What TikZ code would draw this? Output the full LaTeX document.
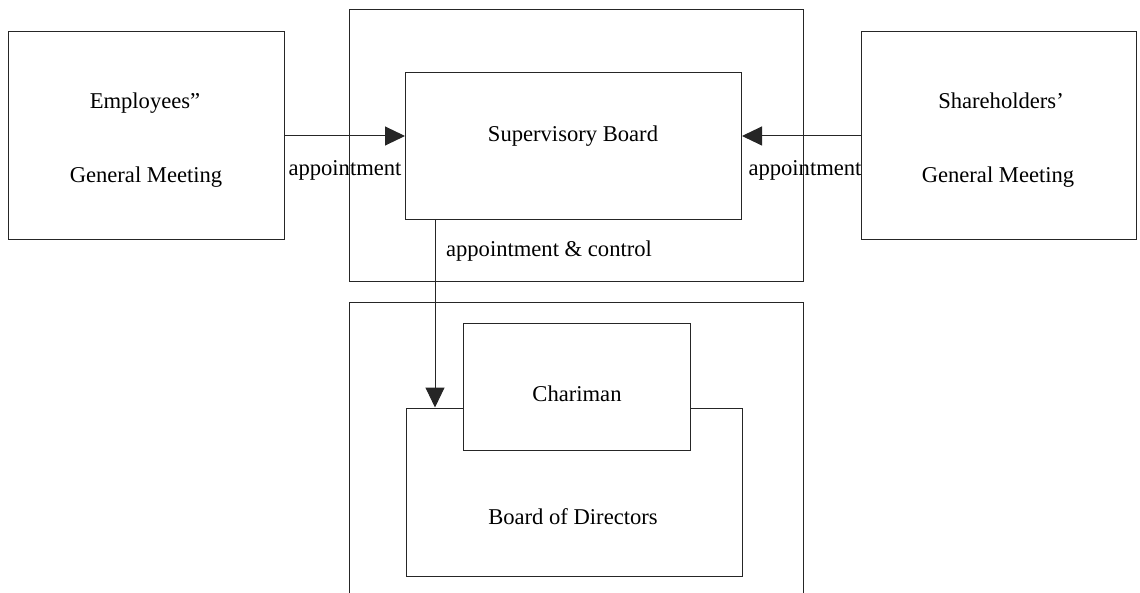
\documentclass[tikz,border=0pt]{standalone}
\usepackage{fontspec}
\setmainfont{Liberation Serif}
\usetikzlibrary{arrows.meta}
\begin{document}
\begin{tikzpicture}[x=1pt,y=-1pt,
  box/.style={draw=black!85,line width=1pt,rectangle,inner sep=0pt,minimum width=#1},
  lbl/.style={font=\fontsize{22.6}{27}\selectfont,inner sep=0pt,anchor=base},
  conn/.style={draw=black!85,line width=1pt,-{Triangle[length=20pt,width=19pt]}}]
\useasboundingbox (0,0) rectangle (1140,593);
% outer frames
\node[box=454,minimum height=272] (topframe) at (576,146) {};
\draw[draw=black!85,line width=1pt] (349,600) -- (349,303) -- (803,303) -- (803,600);
% boxes
\node[box=276,minimum height=208] (emp) at (146,136) {};
\node[box=275,minimum height=208] (sh) at (998.5,136) {};
\node[box=336,minimum height=147] (sup) at (573.5,146.5) {};
\node[box=336,minimum height=168] (bod) at (574,492) {};
\node[box=227,minimum height=126,fill=white] (chair) at (576.5,387) {};
% texts
\node[lbl] (empA) at (145,109) {Employees''};
\node[lbl] (empB) at (146,183) {General Meeting};
\node[lbl] (shA) at (1001,109) {Shareholders'};
\node[lbl] (shB) at (998,183) {General Meeting};
\node[lbl] (supT) at (573,142) {Supervisory Board};
\node[lbl] (chairT) at (577,401) {Chariman};
\node[lbl] (bodT) at (573,524) {Board of Directors};
\node[lbl] (apL) at (345,176) {appointment};
\node[lbl] (apR) at (805,176) {appointment};
\node[lbl] (apC) at (549,257) {appointment \& control};
% connectors
\draw[conn] (emp.east) -- (sup.west |- emp.east);
\draw[conn] (sh.west) -- (sup.east |- sh.west);
\coordinate (dx) at (435,0);
\draw[conn] (sup.south -| dx) -- (bod.north -| dx);
\end{tikzpicture}
\end{document}
